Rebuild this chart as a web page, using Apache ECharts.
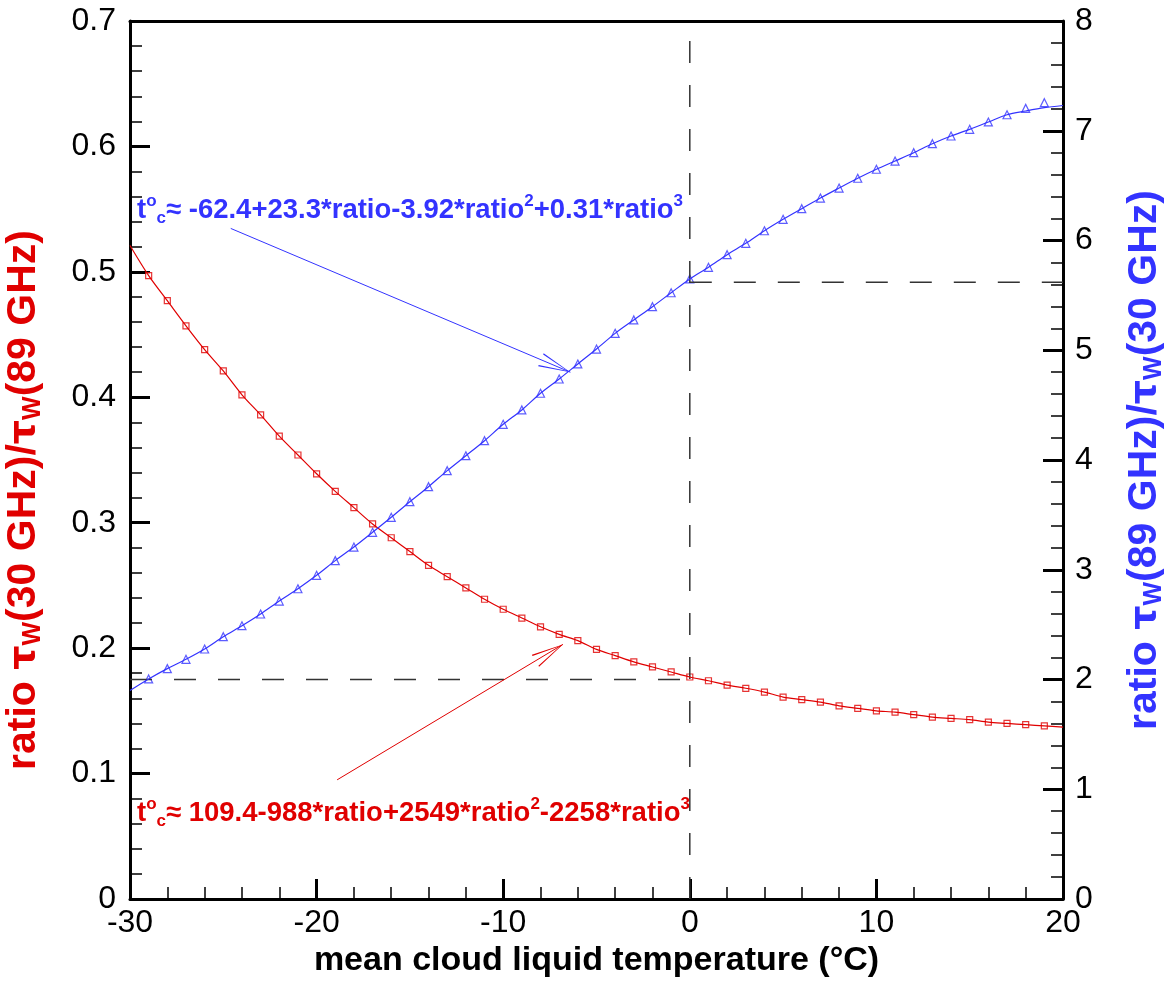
<!DOCTYPE html>
<html>
<head>
<meta charset="utf-8">
<title>cloud liquid temperature ratio</title>
<script src="https://cdn.jsdelivr.net/npm/echarts@6/dist/echarts.min.js"></script>
<style>
  html, body { margin: 0; padding: 0; background: #fff; }
  #main { width: 1166px; height: 1000px; }
</style>
</head>
<body>
<div id="main"></div>
<script>
// temperatures (°C) where the markers sit
var temps = [-29,-28,-27,-26,-25,-24,-23,-22,-21,-20,-19,-18,-17,-16,-15,-14,-13,-12,-11,-10,
  -9,-8,-7,-6,-5,-4,-3,-2,-1,0,1,2,3,4,5,6,7,8,9,10,11,12,13,14,15,16,17,18,19];
// ratio tau_w(30)/tau_w(89), left axis
var redMarks = [0.497,0.477,0.457,0.438,0.421,0.402,0.386,0.369,0.354,0.339,
  0.325,0.312,0.299,0.288,0.277,0.266,0.257,0.248,0.239,0.231,
  0.224,0.217,0.211,0.206,0.199,0.194,0.189,0.185,0.181,0.177,
  0.174,0.1705,0.168,0.165,0.161,0.159,0.157,0.154,0.152,0.150,
  0.149,0.147,0.145,0.144,0.143,0.141,0.140,0.139,0.138];
// ratio tau_w(89)/tau_w(30), right axis
var blueMarks = [2.005,2.099,2.184,2.278,2.39,2.49,2.597,2.715,2.827,2.949,
  3.083,3.207,3.341,3.478,3.62,3.757,3.903,4.039,4.176,4.325,
  4.456,4.608,4.738,4.875,5.011,5.154,5.276,5.397,5.524,5.65,
  5.756,5.871,5.974,6.089,6.193,6.29,6.387,6.478,6.567,6.649,
  6.724,6.8,6.882,6.952,7.013,7.08,7.146,7.204,7.256];
// fitted curve ends at -30 and 20
var redEnds = [0.521, 0.137];
var blueEnds = [1.90, 7.23];
// fitted blue curve runs a bit under the last markers (x = 18, 19)
var blueTail = [7.18, 7.21];

// dashed guide lines
var zeroLine = [[0, 0], [0, 0.7]];
var redRef = [[-30, 0.175], [0, 0.175]];
var blueRef = [[0, 5.62], [20, 5.62]];

// annotation arrows (from, to)
var blueArrow = [[-24.6, 6.11], [-6.4, 4.80]];
var redArrow = [[-18.9, 0.095], [-6.8, 0.203]];

var RED = '#e00000';
var BLUE = '#3333ff';
var FONT = 'Liberation Sans';

function pairs(xs, ys) {
  var out = [];
  for (var i = 0; i < xs.length; i++) out.push([xs[i], ys[i]]);
  return out;
}

var redLine = [[-30, redEnds[0]]].concat(pairs(temps, redMarks), [[20, redEnds[1]]]);
var blueLine = [[-30, blueEnds[0]]].concat(pairs(temps, blueMarks), [[20, blueEnds[1]]]);
blueLine[blueLine.length - 3][1] = blueTail[0];
blueLine[blueLine.length - 2][1] = blueTail[1];

// open V arrow head; tip sits in the middle of the box (the extra empty
// sub-path only stretches the bounding box) so it lands on the end point
var arrowHead = 'path://M7,0 L0,32 L1.3,32 L7,3 L12.7,32 L14,32 Z M7,-32 L7,-32 Z';

function arrowLine(pts, color) {
  return {
    silent: true,
    symbol: ['none', arrowHead],
    symbolSize: [14, 64],
    label: { show: false },
    lineStyle: { color: color, width: 1, type: 'solid' },
    emphasis: { disabled: true },
    data: [[{ coord: pts[0] }, { coord: pts[1] }]]
  };
}

function yName(color) {
  return {
    padding: [0, 0, 0, 0],
    rich: {
      r: { fontFamily: FONT, fontSize: 41, fontWeight: 'bold', color: color },
      t: { fontFamily: 'DejaVu Sans', fontSize: 38, fontWeight: 'bold', color: color },
      s: { fontFamily: FONT, fontSize: 25, fontWeight: 'bold', color: color, verticalAlign: 'bottom', padding: [19, 0, 0, 0] }
    }
  };
}

function noteRich(color) {
  return {
    a: { fontFamily: FONT, fontSize: 27.5, fontWeight: 'bold', fill: color, lineHeight: 34, verticalAlign: 'middle' },
    u: { fontFamily: FONT, fontSize: 17, fontWeight: 'bold', fill: color, lineHeight: 17, verticalAlign: 'top' },
    d: { fontFamily: FONT, fontSize: 17, fontWeight: 'bold', fill: color, lineHeight: 17, verticalAlign: 'bottom' }
  };
}

var axisFont = { fontFamily: FONT, fontSize: 32, color: '#000' };
var frameLine = { onZero: false, lineStyle: { color: '#000', width: 3 } };
var majorTick = { inside: true, length: 20, lineStyle: { color: '#000', width: 3 } };
var minorTick = { show: true, splitNumber: 5, length: 12, lineStyle: { color: '#000', width: 1.5 } };

var leftName = yName(RED);
leftName.padding = [0, 80, 0, 0];
var rightName = yName(BLUE);

var chart = echarts.init(document.getElementById('main'));
chart.setOption({
  animation: false,
  backgroundColor: '#fff',
  grid: { left: 130, right: 103, top: 21, bottom: 101, containLabel: false, outerBoundsMode: 'none' },
  xAxis: [{
    type: 'value', min: -30, max: 20, interval: 10,
    name: 'mean cloud liquid temperature (°C)',
    nameLocation: 'middle', nameGap: 45,
    nameTextStyle: { fontFamily: FONT, fontSize: 34, fontWeight: 'bold', color: '#000' },
    axisLine: frameLine,
    axisTick: majorTick,
    minorTick: minorTick,
    axisLabel: Object.assign({ margin: 8 }, axisFont),
    splitLine: { show: false }
  }, {
    type: 'value', min: -30, max: 20, position: 'top',
    axisLine: frameLine,
    axisTick: { show: false }, axisLabel: { show: false }, splitLine: { show: false }
  }],
  yAxis: [{
    type: 'value', min: 0, max: 0.7, interval: 0.1, position: 'left',
    name: '{r|ratio }{t|τ}{s|W}{r|(30 GHz)/}{t|τ}{s|W}{r|(89 GHz)}',
    nameLocation: 'middle', nameRotate: 90, nameGap: 84,
    nameTextStyle: leftName,
    axisLine: frameLine,
    axisTick: majorTick,
    minorTick: minorTick,
    axisLabel: Object.assign({ margin: 14 }, axisFont),
    splitLine: { show: false }
  }, {
    type: 'value', min: 0, max: 8, interval: 1, position: 'right',
    name: '{r|ratio }{t|τ}{s|W}{r|(89 GHz)/}{t|τ}{s|W}{r|(30 GHz)}',
    nameLocation: 'middle', nameRotate: 90, nameGap: 60,
    nameTextStyle: rightName,
    axisLine: frameLine,
    axisTick: majorTick,
    minorTick: minorTick,
    axisLabel: Object.assign({ margin: 12 }, axisFont),
    splitLine: { show: false }
  }],
  series: [
    {
      name: 'zero', type: 'line', xAxisIndex: 0, yAxisIndex: 0, data: zeroLine,
      symbol: 'none', silent: true,
      lineStyle: { color: '#333', width: 1.5, type: [22, 22] }
    },
    {
      name: 'redRef', type: 'line', xAxisIndex: 0, yAxisIndex: 0, data: redRef,
      symbol: 'none', silent: true,
      lineStyle: { color: '#333', width: 1.5, type: [22, 22] }
    },
    {
      name: 'blueRef', type: 'line', xAxisIndex: 0, yAxisIndex: 1, data: blueRef,
      symbol: 'none', silent: true,
      lineStyle: { color: '#333', width: 1.5, type: [22, 22] }
    },
    {
      name: 'ratio 30/89 fit', type: 'line', xAxisIndex: 0, yAxisIndex: 0, data: redLine,
      symbol: 'none', smooth: 0.3, silent: true,
      lineStyle: { color: RED, width: 1.2 },
      markLine: arrowLine(redArrow, RED)
    },
    {
      name: 'ratio 30/89', type: 'scatter', xAxisIndex: 0, yAxisIndex: 0,
      data: pairs(temps, redMarks), symbol: 'rect', symbolSize: 6,
      itemStyle: { color: '#fff', borderColor: RED, borderWidth: 1.2 }
    },
    {
      name: 'ratio 89/30 fit', type: 'line', xAxisIndex: 0, yAxisIndex: 1, data: blueLine,
      symbol: 'none', smooth: 0.3, silent: true,
      lineStyle: { color: BLUE, width: 1.2 },
      markLine: arrowLine(blueArrow, BLUE)
    },
    {
      name: 'ratio 89/30', type: 'scatter', xAxisIndex: 0, yAxisIndex: 1,
      data: pairs(temps, blueMarks), symbol: 'triangle', symbolSize: 8,
      itemStyle: { color: '#fff', borderColor: BLUE, borderWidth: 1.2 }
    }
  ],
  graphic: [
    {
      type: 'text', left: 137, top: 193, silent: true,
      style: {
        text: '{a|t}{u|o}{d|c}{a|≈ -62.4+23.3*ratio-3.92*ratio}{u|2}{a|+0.31*ratio}{u|3}',
        rich: noteRich(BLUE)
      }
    },
    {
      type: 'text', left: 137, top: 796, silent: true,
      style: {
        text: '{a|t}{u|o}{d|c}{a|≈ 109.4-988*ratio+2549*ratio}{u|2}{a|-2258*ratio}{u|3}',
        rich: noteRich(RED)
      }
    }
  ]
});
</script>
</body>
</html>
